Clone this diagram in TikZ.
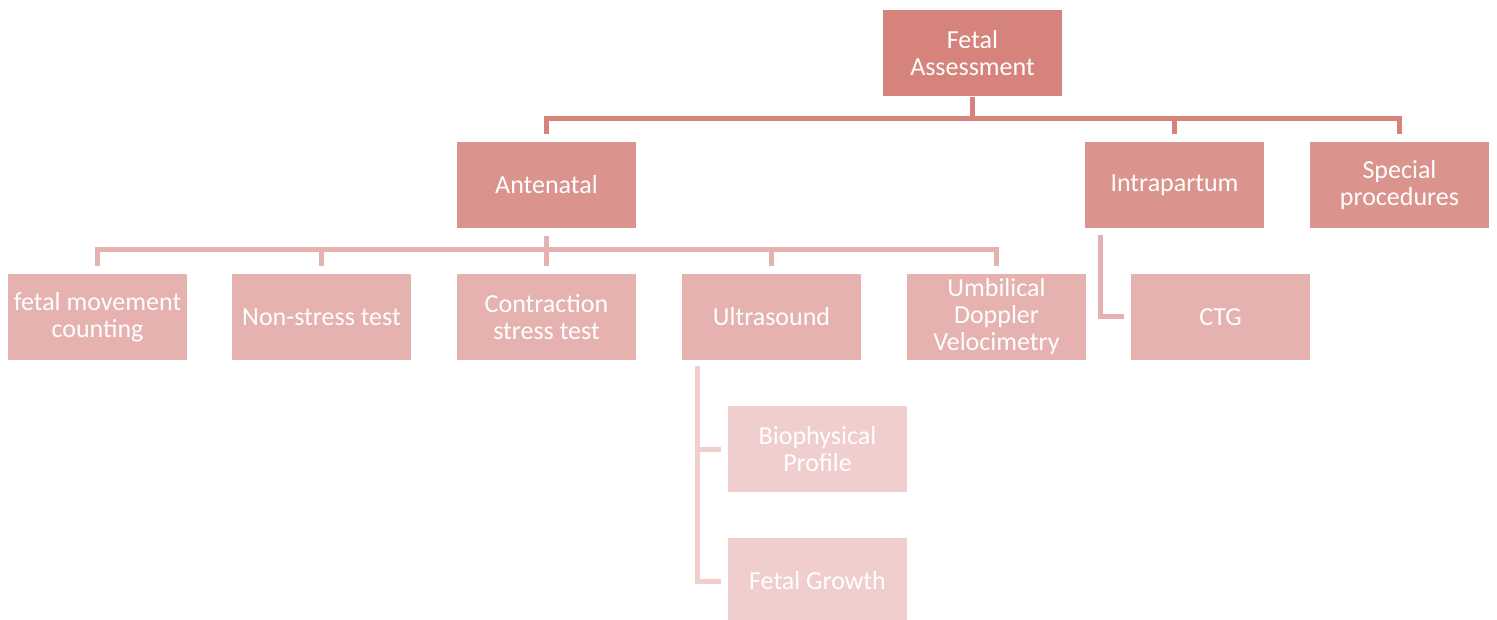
\documentclass[tikz,border=0pt]{standalone}
\usepackage{fontspec}
\setmainfont{Carlito}
\definecolor{cA}{HTML}{D6837C}
\definecolor{cB}{HTML}{DA938D}
\definecolor{cC}{HTML}{E5B2AF}
\definecolor{cD}{HTML}{F0CECD}
\tikzset{
  box/.style={minimum width=180pt, minimum height=87pt, inner sep=0pt, text=white, align=center,
    font=\fontsize{26}{27}\selectfont, anchor=north west, draw=white, line width=1pt},
  lA/.style={draw=cA, line width=5pt},
  lB/.style={draw=cC, line width=5pt},
  lC/.style={draw=cD, line width=5pt},
}
\begin{document}
\begin{tikzpicture}[x=1pt,y=-1pt]
\useasboundingbox (0,0) rectangle (1497,620);
\clip (0,0) rectangle (1497,620);
\node[box, fill=cA] (fa) at (882,9) {Fetal\\Assessment};
\node[box, fill=cB] (an) at (456,141) {Antenatal};
\node[box, fill=cB] (ip) at (1084,141) {Intrapartum};
\node[box, fill=cB] (sp) at (1309,141) {Special\\procedures};
\node[box, fill=cC] (fm) at (7,273) {fetal movement\\counting};
\node[box, fill=cC] (ns) at (231,273) {Non-stress test};
\node[box, fill=cC] (ct) at (456,273) {Contraction\\stress test};
\node[box, fill=cC] (us) at (681,273) {Ultrasound};
\node[box, fill=cC] (ud) at (906,273) {Umbilical\\Doppler\\Velocimetry};
\node[box, fill=cC] (ctg) at (1130,273) {CTG};
\node[box, fill=cD] (bp) at (727,405) {Biophysical\\Profile};
\node[box, fill=cD] (fg) at (727,537) {Fetal Growth};
% level 1 connectors
\coordinate (busA) at (0,119);
\draw[lA] (fa.south) -- (fa.south |- busA);
\draw[lA, line cap=rect] (an.north |- busA) -- (sp.north |- busA);
\draw[lA] ([yshift=7pt]an.north) -- (an.north |- busA);
\draw[lA] ([yshift=7pt]ip.north) -- (ip.north |- busA);
\draw[lA] ([yshift=7pt]sp.north) -- (sp.north |- busA);
% antenatal connectors
\coordinate (busB) at (0,250);
\draw[lB] ([yshift=-7pt]an.south) -- (an.south |- busB);
\draw[lB, line cap=rect] (fm.north |- busB) -- (ud.north |- busB);
\foreach \n in {fm,ns,ct,us,ud}
  \draw[lB] ([yshift=7pt]\n.north) -- (\n.north |- busB);
% intrapartum
\coordinate (ipx) at (1100,235);
\draw[lB] (ipx) -- (ipx |- ctg.west) -- ([xshift=-6pt]ctg.west);
% ultrasound
\coordinate (usx) at (697,366);
\draw[lC] (usx) -- (usx |- fg.west) -- ([xshift=-6pt]fg.west);
\draw[lC] (usx |- bp.west) -- ([xshift=-6pt]bp.west);
\end{tikzpicture}
\end{document}
